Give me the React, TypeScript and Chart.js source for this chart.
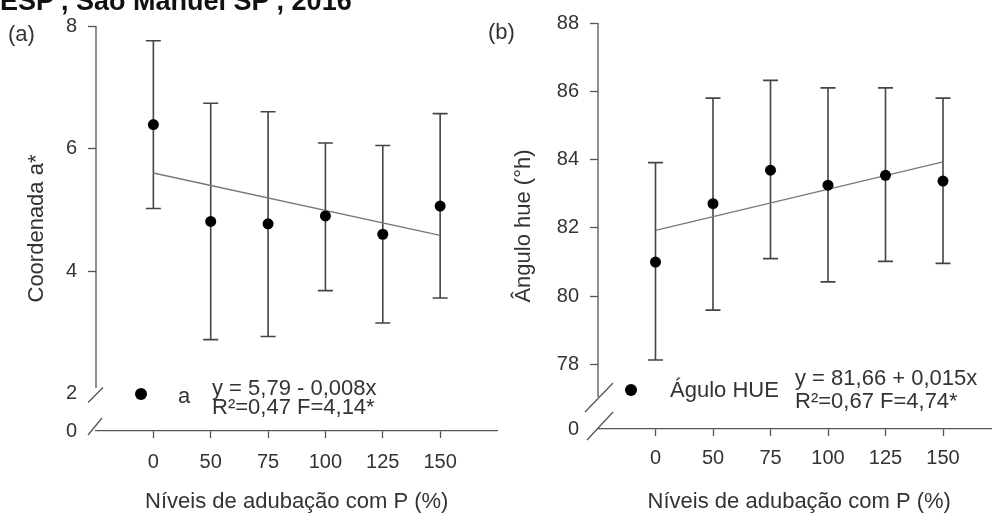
import React, { useEffect, useRef } from 'react';
import { Chart, registerables } from 'chart.js';

Chart.register(...registerables);

// ---------- data ----------
const categories = ['0', '50', '75', '100', '125', '150'];

const meanA = [6.39, 4.81, 4.77, 4.9, 4.6, 5.06];
const lowA = [5.02, 2.88, 2.93, 3.68, 3.15, 3.56];
const highA = [7.76, 6.74, 6.6, 6.09, 6.05, 6.57];
const trendA = [5.6, 4.58]; // fitted line at first and last level
const yTicksA = [2, 4, 6, 8];

const meanB = [81.0, 82.71, 83.69, 83.25, 83.54, 83.37];
const lowB = [78.13, 79.59, 81.1, 80.42, 81.02, 80.96];
const highB = [83.91, 85.8, 86.32, 86.1, 86.1, 85.8];
const trendB = [81.93, 83.93];
const yTicksB = [78, 80, 82, 84, 86, 88];

const breakLabel = '0';
const xTitle = 'Níveis de adubação com P (%)';

const FONT = "'Liberation Sans', Arial, Helvetica, sans-serif";
const AXIS = '#555';
const TEXT = '#333';

type Panel = {
  mean: number[];
  low: number[];
  high: number[];
  trend: number[];
  yTicks: number[];
  yMin: number;
  yMax: number;
  hideTickBelow: number;
  yTitle: string;
  width: number;
  top: number;
  yWidth: number;
  xHeight: number;
  yTitlePad: number;
  xTickPad: number;
  axisEnd: number; // vertical axis stops this far above the bottom
  slashes: number[][]; // [cxOff, cyOff(from bottom), dx, dy]
};

function buildChart(canvas: HTMLCanvasElement, p: Panel) {
  const points = p.mean.map((v, i) => ({ x: i, y: v }));
  const last = categories.length - 1;
  const trend = [
    { x: 0, y: p.trend[0] },
    { x: last, y: p.trend[1] },
  ];

  const plugin = {
    id: 'errAndBreak',
    beforeDatasetsDraw(chart: any) {
      const { ctx } = chart;
      const xs = chart.scales.x;
      const ys = chart.scales.y;
      ctx.save();
      ctx.strokeStyle = '#444';
      ctx.lineWidth = 1.6;
      p.low.forEach((lo: number, i: number) => {
        const px = xs.getPixelForValue(i);
        const pl = ys.getPixelForValue(lo);
        const ph = ys.getPixelForValue(p.high[i]);
        ctx.beginPath();
        ctx.moveTo(px, pl);
        ctx.lineTo(px, ph);
        ctx.moveTo(px - 7.5, pl);
        ctx.lineTo(px + 7.5, pl);
        ctx.moveTo(px - 7.5, ph);
        ctx.lineTo(px + 7.5, ph);
        ctx.stroke();
      });
      ctx.restore();
    },
    afterDraw(chart: any) {
      const { ctx } = chart;
      const { left, top, bottom } = chart.chartArea;
      ctx.save();
      ctx.strokeStyle = AXIS;
      ctx.lineWidth = 1.3;
      ctx.beginPath();
      ctx.moveTo(left, top);
      ctx.lineTo(left, bottom - p.axisEnd);
      p.slashes.forEach(([cx, cy, dx, dy]) => {
        ctx.moveTo(left + cx - dx, bottom - cy + dy);
        ctx.lineTo(left + cx + dx, bottom - cy - dy);
      });
      ctx.stroke();
      ctx.restore();
    },
  };

  return new Chart(canvas, {
    type: 'scatter',
    data: {
      datasets: [
        {
          type: 'scatter',
          data: points,
          pointRadius: 5.5,
          pointBackgroundColor: '#000',
          pointBorderWidth: 0,
          backgroundColor: '#000',
        } as any,
        {
          type: 'line',
          data: trend,
          borderColor: '#777',
          borderWidth: 1.3,
          pointRadius: 0,
          fill: false,
          showLine: true,
        } as any,
      ],
    },
    options: {
      responsive: false,
      animation: false,
      devicePixelRatio: 1,
      layout: { padding: { left: 0, right: 0, top: p.top, bottom: 0 } },
      plugins: { legend: { display: false }, tooltip: { enabled: false } },
      scales: {
        x: {
          type: 'linear',
          min: -1,
          max: 6,
          afterBuildTicks: (s: any) => {
            s.ticks = categories.map((_, i) => ({ value: i }));
          },
          afterFit: (s: any) => {
            s.height = p.xHeight;
          },
          ticks: {
            callback: (v: any) => categories[v] ?? '',
            font: { family: FONT, size: 20 },
            color: TEXT,
            padding: p.xTickPad,
            maxRotation: 0,
            autoSkip: false,
          },
          grid: {
            display: true,
            drawOnChartArea: false,
            drawTicks: true,
            tickLength: 7,
            tickColor: AXIS,
            tickWidth: 1.3,
          },
          border: { display: true, color: AXIS, width: 1.3 },
          title: {
            display: true,
            text: xTitle,
            font: { family: FONT, size: 22 },
            color: TEXT,
            padding: { top: 0, bottom: 0 },
          },
        },
        y: {
          type: 'linear',
          min: p.yMin,
          max: p.yMax,
          afterBuildTicks: (s: any) => {
            s.ticks = [{ value: p.yMin }, ...p.yTicks.map((v) => ({ value: v }))];
          },
          afterFit: (s: any) => {
            s.width = p.yWidth;
          },
          ticks: {
            callback: (v: any) => (v === p.yMin ? breakLabel : String(v)),
            font: { family: FONT, size: 20 },
            color: TEXT,
            padding: 11,
            autoSkip: false,
          },
          grid: {
            display: true,
            drawOnChartArea: false,
            drawTicks: true,
            tickLength: 8,
            tickWidth: 1.3,
            tickColor: (c: any) =>
              c.tick && c.tick.value < p.hideTickBelow ? 'rgba(0,0,0,0)' : AXIS,
          },
          border: { display: false },
          title: {
            display: true,
            text: p.yTitle,
            font: { family: FONT, size: 22 },
            color: TEXT,
            padding: { top: p.yTitlePad, bottom: 0 },
          },
        },
      },
    },
    plugins: [plugin],
  } as any);
}

const panelA: Panel = {
  mean: meanA,
  low: lowA,
  high: highA,
  trend: trendA,
  yTicks: yTicksA,
  yMin: 1.388,
  yMax: 8,
  hideTickBelow: 3,
  yTitle: 'Coordenada a*',
  width: 503,
  top: 26,
  yWidth: 96,
  xHeight: 84,
  yTitlePad: 24,
  xTickPad: 12,
  axisEnd: 43,
  slashes: [
    [-0.5, 36, 7.5, 7.5],
    [-1, 4.5, 7, 8.5],
  ],
};

const panelB: Panel = {
  mean: meanB,
  low: lowB,
  high: highB,
  trend: trendB,
  yTicks: yTicksB,
  yMin: 76.11,
  yMax: 88,
  hideTickBelow: 77,
  yTitle: 'Ângulo hue (°h)',
  width: 518,
  top: 22.7,
  yWidth: 110,
  xHeight: 86,
  yTitlePad: 23,
  xTickPad: 10,
  axisEnd: 32,
  slashes: [
    [1, 31.5, 14, 14.5],
    [2, 3, 13, 14],
  ],
};

function ChartCanvas({ panel, left }: { panel: Panel; left: number }) {
  const ref = useRef<HTMLCanvasElement | null>(null);
  useEffect(() => {
    if (!ref.current) return;
    const c = buildChart(ref.current, panel);
    return () => c.destroy();
  }, [panel]);
  return (
    <canvas
      ref={ref}
      width={panel.width}
      height={515}
      style={{ position: 'absolute', left, top: 0, width: panel.width, height: 515, display: 'block' }}
    />
  );
}

const txt = (extra: React.CSSProperties): React.CSSProperties => ({
  position: 'absolute',
  fontFamily: FONT,
  fontSize: 22,
  lineHeight: '22px',
  color: TEXT,
  whiteSpace: 'nowrap',
  ...extra,
});

const dot = (cx: number, cy: number): React.CSSProperties => ({
  position: 'absolute',
  left: cx - 6,
  top: cy - 6,
  width: 12,
  height: 12,
  borderRadius: '50%',
  background: '#000',
});

export default function App() {
  return (
    <div
      style={{
        position: 'fixed',
        left: 0,
        top: 0,
        width: 992,
        height: 515,
        overflow: 'hidden',
        background: '#fff',
      }}
    >
      <ChartCanvas panel={panelA} left={0} />
      <ChartCanvas panel={panelB} left={488} />

      <div style={txt({ left: 0, top: -12, fontSize: 27, lineHeight: '27px', fontWeight: 'bold', color: '#111' })}>
        ESP , São Manuel SP , 2016
      </div>

      <div style={txt({ left: 8, top: 23 })}>(a)</div>
      <div style={txt({ left: 488, top: 21 })}>(b)</div>

      <div style={dot(141, 394)} />
      <div style={txt({ left: 178, top: 385 })}>a</div>
      <div style={txt({ left: 212, top: 377 })}>y = 5,79 - 0,008x</div>
      <div style={txt({ left: 212, top: 396 })}>R²=0,47 F=4,14*</div>

      <div style={dot(631, 390)} />
      <div style={txt({ left: 670, top: 379 })}>Águlo HUE</div>
      <div style={txt({ left: 795, top: 367 })}>y = 81,66 + 0,015x</div>
      <div style={txt({ left: 795, top: 390 })}>R²=0,67 F=4,74*</div>
    </div>
  );
}
